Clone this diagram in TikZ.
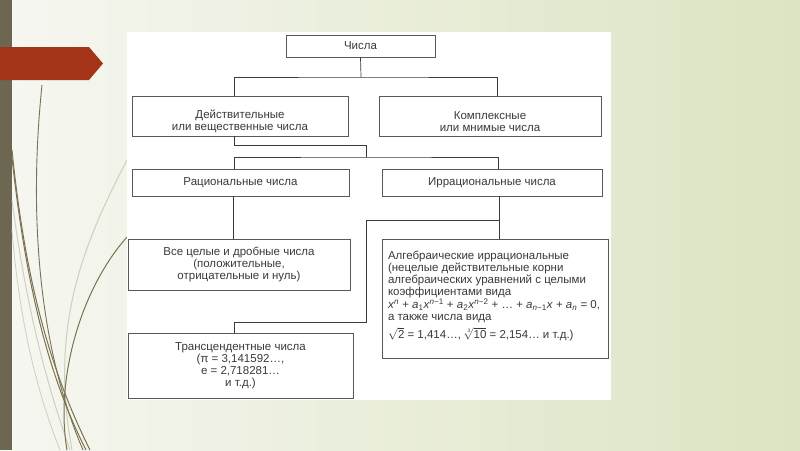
\documentclass[tikz,border=0pt]{standalone}
\usepackage{fontspec}
\setmainfont{Liberation Sans}
\definecolor{slideleft}{HTML}{F6F7F1}
\definecolor{slideright}{HTML}{DCE4C2}
\definecolor{strip}{HTML}{6D6650}
\definecolor{arrowred}{HTML}{A33418}
\definecolor{vine}{HTML}{7A7150}
\definecolor{vinelight}{HTML}{CDD0BE}
\definecolor{ink}{HTML}{3A3A3A}
\newcommand{\vi}[1]{\textit{#1}}
\newcommand{\lowerpad}{\rule{0pt}{19pt}}
\tikzset{
  box/.style={draw=ink!85, line width=0.7pt, text=ink, align=center, inner sep=2pt,
    font=\fontsize{11.5}{12}\selectfont},
  link/.style={draw=ink, line width=0.7pt}
}

\begin{document}
\begin{tikzpicture}[x=1pt,y=-1pt]
	\useasboundingbox (0,0) rectangle (800,450);
	% slide background
	\shade[left color=slideleft,right color=slideright] (0,0) rectangle (800,450);
	\fill[strip] (0,0) rectangle (12,450);
	\fill[arrowred] (0,47) -- (89,47) -- (103,63.5) -- (89,80) -- (0,80) -- cycle;
	\draw[vinelight, line width=1pt] (127,160) .. controls (80,250) and (50,330) .. (72,450);
	\draw[vinelight, line width=1pt] (12,200) .. controls (25,300) and (45,380) .. (70,450);
	\draw[vinelight, line width=0.8pt] (12,230) .. controls (20,330) and (40,400) .. (60,450);
	\draw[vine, line width=0.9pt] (42,85) .. controls (28,220) and (40,350) .. (83,450);
	\draw[vine, line width=1pt] (12,150) .. controls (25,280) and (50,370) .. (90,450);
	\draw[vine, line width=1pt] (12,158) .. controls (26,285) and (48,375) .. (86,450);
	\draw[vine, line width=1pt] (127,237) .. controls (80,290) and (55,380) .. (67,450);
	\fill[white] (127,32) rectangle (611,400);

	% boxes
	\node[box, minimum width=149pt, minimum height=22pt] (nums) at (360.5,46) {Числа};
	\node[box, minimum width=216pt, minimum height=40pt] (real) at (240,116) {\lowerpad Действительные\\или вещественные числа};
	\node[box, minimum width=222pt, minimum height=40pt] (cplx) at (490,116) {\lowerpad Комплексные\\или мнимые числа};
	\node[box, minimum width=217pt, minimum height=27pt] (rat) at (240.5,182.5) {Рациональные числа};
	\node[box, minimum width=220pt, minimum height=27pt] (irr) at (492,182.5) {Иррациональные числа};
	\node[box, minimum width=222pt, minimum height=51pt] (whole) at (239,264.5) {Все целые и дробные числа\\(положительные,\\отрицательные и нуль)};
	\node[box, inner xsep=6pt, inner ysep=3pt] (alg) at (495,298.5)
		{\parbox[c][113pt][t]{214pt}{\raggedright\vspace*{9pt}%
		Алгебраические иррациональные\\
		(нецелые действительные корни\\
		алгебраических уравнений с целыми\\
		коэффициентами вида\\
		\vi{x}\textsuperscript{\vi{n}} + \vi{a}\textsubscript{1}\vi{x}\textsuperscript{\vi{n}−1} + \vi{a}\textsubscript{2}\vi{x}\textsuperscript{\vi{n}−2} + … + \vi{a}\textsubscript{\vi{n}−1}\vi{x} + \vi{a}\textsubscript{\vi{n}} = 0,\\
		а также числа вида\\[3pt]
		$\sqrt{\mbox{2}}$ = 1,414…, $\sqrt[\mbox{\tiny 3}]{\mbox{10}}$ = 2,154… и т.д.)}};
	\node[box, minimum width=225pt, minimum height=65pt] (trans) at (240.5,365.5) {Трансцендентные числа\\(π = 3,141592…,\\e = 2,718281…\\и т.д.)};

	% connectors
	\coordinate (fork1) at (361,77);
	\coordinate (realin) at (234,96);
	\coordinate (cplxin) at (497,96);
	\draw[link] (nums.south) -- (fork1);
	\draw[link] (realin) |- (fork1) -| (cplxin);

	\coordinate (realout) at (234,136);
	\coordinate (fork2) at (366,157);
	\coordinate (ratin) at (234,169);
	\coordinate (irrin) at (498,169);
	\draw[link] (realout) -- ++(0,9) -| (fork2);
	\draw[link] (ratin) |- (fork2) -| (irrin);

	\coordinate (ratout) at (233,196);
	\coordinate (wholein) at (233,239);
	\draw[link] (ratout) -- (wholein);

	\coordinate (irrout) at (499,196);
	\coordinate (algin) at (499,239);
	\coordinate (fork3) at (499,220);
	\coordinate (bend) at (366,322);
	\coordinate (transin) at (234,333);
	\draw[link] (irrout) -- (algin);
	\draw[link] (fork3) -| (bend) -| (transin);
\end{tikzpicture}
\end{document}
